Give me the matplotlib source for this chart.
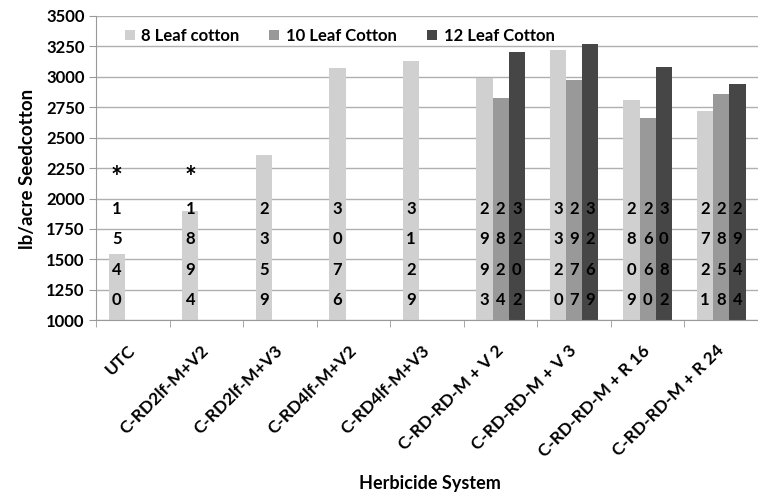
import matplotlib.pyplot as plt
import numpy as np

plt.rcParams['font.family'] = ['Lato', 'DejaVu Sans']
plt.rcParams['font.weight'] = 'bold'

# datos (altura de barra)
categorias = ['UTC', 'C-RD2lf-M+V2', 'C-RD2lf-M+V3', 'C-RD4lf-M+V2', 'C-RD4lf-M+V3',
              'C-RD-RD-M + V 2', 'C-RD-RD-M + V 3', 'C-RD-RD-M + R 16', 'C-RD-RD-M + R 24']
hoja8 = [1540, 1894, 2359, 3076, 3129, 2993, 3220, 2809, 2721]
hoja10 = [None, None, None, None, None, 2824, 2977, 2660, 2858]
hoja12 = [None, None, None, None, None, 3202, 3269, 3082, 2944]
# numeros escritos dentro de las barras (tal como aparecen)
texto8 = ['1540', '1894', '2359', '3076', '3129', '2993', '3320', '2809', '2721']
texto10 = ['', '', '', '', '', '2824', '2977', '2660', '2858']
texto12 = ['', '', '', '', '', '3202', '3269', '3082', '2944']
series = ['8 Leaf cotton', '10 Leaf Cotton', '12 Leaf Cotton']
colores = ['#d0d0d0', '#999999', '#464646']
asteriscos = [0, 1]  # categorias con *

fig = plt.figure(figsize=(7.58, 4.98), dpi=100)
ax = fig.add_axes([0.127, 0.357, 0.873, 0.611])

x = np.arange(len(categorias))
ancho = 0.22
base = 1000
datos = [hoja8, hoja10, hoja12]
textos = [texto8, texto10, texto12]
for i, (vals, txts, nombre, col) in enumerate(zip(datos, textos, series, colores)):
    xs = x + (i - 1) * ancho
    alturas = [v - base if v is not None else 0 for v in vals]
    ax.bar(xs, alturas, ancho, bottom=base, color=col, label=nombre, zorder=2)
    # numeros en vertical, digito por digito
    for xi, t in zip(xs, txts):
        for k, d in enumerate(t):
            ax.text(xi, 1915 - 250 * k, d, ha='center', va='center',
                    fontsize=12, fontweight='bold', color='black', zorder=3)

for c in asteriscos:
    ax.text(x[c] - ancho, 2165, '*', ha='center', va='center', fontsize=20,
            fontweight='bold', zorder=3)

ax.set_ylim(1000, 3500)
ax.set_yticks(np.arange(1000, 3501, 250))
ax.set_xlim(-0.5, 8.41)
ax.set_xticks(x)
ax.set_xticklabels(categorias, rotation=45, ha='right', va='center',
                   rotation_mode='anchor', fontsize=12.5, fontweight='bold')
ax.set_xticks(np.arange(-0.5, 9, 1), minor=True)
ax.tick_params(axis='x', which='major', length=0, pad=20)
ax.tick_params(axis='x', which='minor', length=5, color='#999999')
ax.tick_params(axis='y', length=5, color='#999999', labelsize=12)
for t in ax.get_yticklabels():
    t.set_fontweight('bold')

ax.grid(axis='y', color='#b0b0b0', linewidth=1, zorder=0)
for s in ['top', 'right']:
    ax.spines[s].set_visible(False)
ax.spines['left'].set_color('#999999')
ax.spines['bottom'].set_color('#999999')

fig.text(0.036, 0.66, 'lb/acre Seedcotton', rotation=90, ha='center', va='center',
         fontsize=13.5, fontweight='bold')
fig.text(0.567, 0.03, 'Herbicide System', ha='center', va='center',
         fontsize=13, fontweight='bold')

ax.legend(loc='upper left', bbox_to_anchor=(0.02, 1.01), ncol=3, frameon=False,
          handlelength=0.6, handleheight=0.6, columnspacing=1.8,
          handletextpad=0.4, prop={'weight': 'bold', 'size': 12})

plt.savefig('out.png', dpi=100)
